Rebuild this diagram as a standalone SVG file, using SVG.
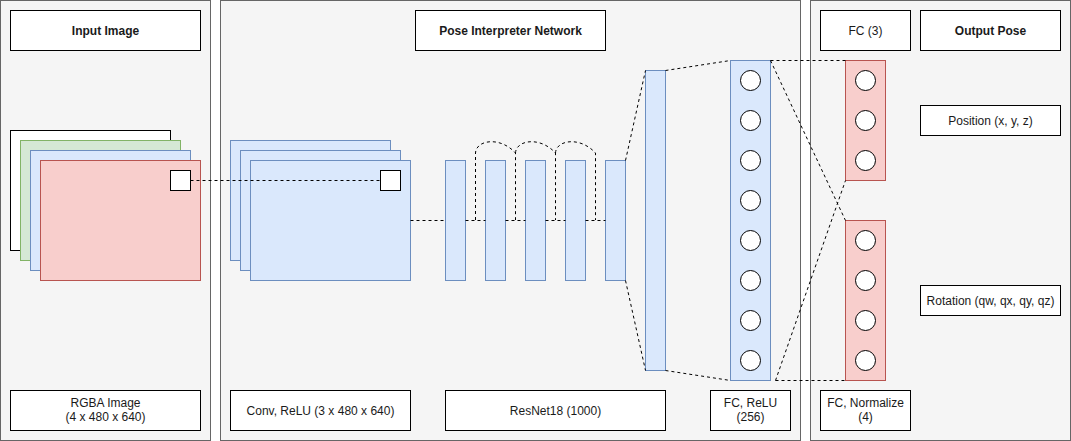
<svg xmlns="http://www.w3.org/2000/svg" width="1071" height="441" viewBox="0 0 1071 441">
<style>
.panel{fill:#f5f5f5;stroke:#666666;stroke-width:1}
.lbl{fill:#ffffff;stroke:#000000;stroke-width:1}
.blue{fill:#dae8fc;stroke:#6c8ebf;stroke-width:1}
.red{fill:#f8cecc;stroke:#b85450;stroke-width:1}
.green{fill:#d5e8d4;stroke:#82b366;stroke-width:1}
.white{fill:#ffffff;stroke:#000000;stroke-width:1}
.node{fill:#ffffff;stroke:#000000;stroke-width:1}
.dash{fill:none;stroke:#000000;stroke-width:1;stroke-dasharray:3 3}
text{font-family:"Liberation Sans",Arial,sans-serif;font-size:12px;fill:#1a1a1a;text-anchor:middle}
.b{font-weight:bold}
</style>
<rect width="1071" height="441" fill="#ffffff"/>
<g id="panels">
<rect class="panel" x="0.5" y="0.5" width="210" height="440"/>
<rect class="panel" x="220.5" y="0.5" width="580" height="440"/>
<rect class="panel" x="810.5" y="0.5" width="260" height="440"/>
</g>
<g id="input-image-title"><rect class="lbl" x="10.5" y="10.5" width="190" height="40"/><text class="b" x="105.5" y="35">Input Image</text></g>
<g id="pose-network-title"><rect class="lbl" x="415.5" y="10.5" width="190" height="40"/><text class="b" x="510.5" y="35">Pose Interpreter Network</text></g>
<g id="fc3-title"><rect class="lbl" x="820.5" y="10.5" width="90" height="40"/><text x="865.5" y="35">FC (3)</text></g>
<g id="output-pose-title"><rect class="lbl" x="920.5" y="10.5" width="140" height="40"/><text class="b" x="990.5" y="35">Output Pose</text></g>
<g id="position-label"><rect class="lbl" x="920.5" y="105.5" width="140" height="30"/><text x="990.5" y="125">Position (x, y, z)</text></g>
<g id="rotation-label"><rect class="lbl" x="920.5" y="285.5" width="140" height="30"/><text x="990.5" y="305">Rotation (qw, qx, qy, qz)</text></g>
<g id="rgba-label"><rect class="lbl" x="10.5" y="390.5" width="190" height="40"/><text x="105.5" y="407">RGBA Image</text><text x="105.5" y="421">(4 x 480 x 640)</text></g>
<g id="conv-label"><rect class="lbl" x="230.5" y="390.5" width="180" height="40"/><text x="320.5" y="415">Conv, ReLU (3 x 480 x 640)</text></g>
<g id="resnet-label"><rect class="lbl" x="445.5" y="390.5" width="220" height="40"/><text x="555.5" y="415">ResNet18 (1000)</text></g>
<g id="fcrelu-label"><rect class="lbl" x="710.5" y="390.5" width="80" height="40"/><text x="750.5" y="407">FC, ReLU</text><text x="750.5" y="421">(256)</text></g>
<g id="fcnorm-label"><rect class="lbl" x="820.5" y="390.5" width="90" height="40"/><text x="865.5" y="407">FC, Normalize</text><text x="865.5" y="421">(4)</text></g>

<g id="input-image">
<rect class="white" x="10.5" y="130.5" width="160" height="120"/>
<rect class="green" x="20.5" y="140.5" width="160" height="120"/>
<rect class="blue" x="30.5" y="150.5" width="160" height="120"/>
<rect class="red" x="40.5" y="160.5" width="160" height="120"/>
<rect class="white" x="170.5" y="170.5" width="20" height="20"/>
</g>
<g id="conv-layer">
<rect class="blue" x="230.5" y="140.5" width="160" height="120"/>
<rect class="blue" x="240.5" y="150.5" width="160" height="120"/>
<rect class="blue" x="250.5" y="160.5" width="160" height="120"/>
<rect class="white" x="380.5" y="170.5" width="20" height="20"/>
</g>
<g id="resnet-blocks">
<rect class="blue" x="445.5" y="160.5" width="20" height="120"/>
<rect class="blue" x="485.5" y="160.5" width="20" height="120"/>
<rect class="blue" x="525.5" y="160.5" width="20" height="120"/>
<rect class="blue" x="565.5" y="160.5" width="20" height="120"/>
<rect class="blue" x="605.5" y="160.5" width="20" height="120"/>
</g>
<g id="resnet-output"><rect class="blue" x="645.5" y="70.5" width="20" height="300"/></g>
<g id="fc-relu">
<rect class="blue" x="730.5" y="60.5" width="40" height="320"/>
<circle class="node" cx="750.5" cy="80.5" r="10"/>
<circle class="node" cx="750.5" cy="120.5" r="10"/>
<circle class="node" cx="750.5" cy="160.5" r="10"/>
<circle class="node" cx="750.5" cy="200.5" r="10"/>
<circle class="node" cx="750.5" cy="240.5" r="10"/>
<circle class="node" cx="750.5" cy="280.5" r="10"/>
<circle class="node" cx="750.5" cy="320.5" r="10"/>
<circle class="node" cx="750.5" cy="360.5" r="10"/>
</g>
<g id="fc-position">
<rect class="red" x="845.5" y="60.5" width="40" height="120"/>
<circle class="node" cx="865.5" cy="80.5" r="10"/>
<circle class="node" cx="865.5" cy="120.5" r="10"/>
<circle class="node" cx="865.5" cy="160.5" r="10"/>
</g>
<g id="fc-rotation">
<rect class="red" x="845.5" y="220.5" width="40" height="160"/>
<circle class="node" cx="865.5" cy="240.5" r="10"/>
<circle class="node" cx="865.5" cy="280.5" r="10"/>
<circle class="node" cx="865.5" cy="320.5" r="10"/>
<circle class="node" cx="865.5" cy="360.5" r="10"/>
</g>

<g id="connectors">
<line class="dash" x1="190.5" y1="180.5" x2="380.5" y2="180.5"/>
<line class="dash" x1="410.5" y1="220.5" x2="445.5" y2="220.5"/>
<line class="dash" x1="465.5" y1="220.5" x2="485.5" y2="220.5"/>
<line class="dash" x1="505.5" y1="220.5" x2="525.5" y2="220.5"/>
<line class="dash" x1="545.5" y1="220.5" x2="565.5" y2="220.5"/>
<line class="dash" x1="585.5" y1="220.5" x2="605.5" y2="220.5"/>
<path class="dash" d="M475.5,220 L475.5,153 C476,140 500,136 515.5,153 L515.5,220"/>
<path class="dash" d="M515.5,153 C516,140 540,136 555.5,153 L555.5,220"/>
<path class="dash" d="M555.5,153 C556,140 580,136 595.5,153 L595.5,220"/>
<line class="dash" x1="625.5" y1="160.5" x2="645.5" y2="70.5"/>
<line class="dash" x1="625.5" y1="280.5" x2="645.5" y2="370.5"/>
<line class="dash" x1="665.5" y1="70.5" x2="730.5" y2="60.5"/>
<line class="dash" x1="665.5" y1="370.5" x2="730.5" y2="380.5"/>
<line class="dash" x1="770.5" y1="60.5" x2="845.5" y2="60.5"/>
<line class="dash" x1="770.5" y1="60.5" x2="845.5" y2="220.5"/>
<line class="dash" x1="775.5" y1="380.5" x2="845.5" y2="180.5"/>
<line class="dash" x1="775.5" y1="380.5" x2="845.5" y2="380.5"/>
</g>
</svg>
